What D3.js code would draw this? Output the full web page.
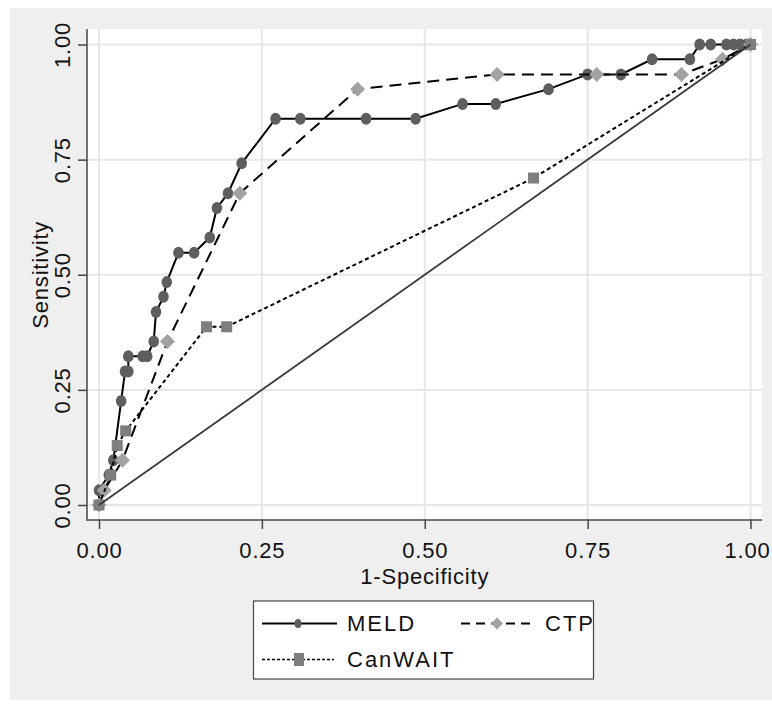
<!DOCTYPE html>
<html>
<head>
<meta charset="utf-8">
<script src="https://cdn.jsdelivr.net/npm/d3@7"></script>
<style>
  body { margin: 0; background: #fff; }
  text { font-family: "Liberation Sans", Arial, sans-serif; fill: #111; }
</style>
</head>
<body>
<div id="canvas"></div>
<script>
const w = 772, h = 708;

// 1-specificity / sensitivity
const meldX = [0, 0, 0.015, 0.022, 0.034, 0.040, 0.045, 0.045, 0.067, 0.074, 0.084, 0.0875, 0.099, 0.104, 0.122, 0.146, 0.170, 0.181, 0.198, 0.219, 0.271, 0.309, 0.410, 0.486, 0.558, 0.609, 0.690, 0.750, 0.801, 0.849, 0.907, 0.922, 0.939, 0.963, 0.974, 0.984, 0.994, 1];
const meldY = [0, 0.032, 0.065, 0.097, 0.226, 0.290, 0.290, 0.323, 0.323, 0.323, 0.355, 0.419, 0.452, 0.484, 0.548, 0.548, 0.581, 0.645, 0.677, 0.742, 0.839, 0.839, 0.839, 0.839, 0.871, 0.871, 0.903, 0.935, 0.935, 0.968, 0.968, 1, 1, 1, 1, 1, 1, 1];
const ctpX = [0, 0.008, 0.036, 0.105, 0.216, 0.397, 0.611, 0.764, 0.894, 0.957, 1];
const ctpY = [0, 0.032, 0.097, 0.355, 0.677, 0.903, 0.935, 0.935, 0.935, 0.968, 1];
const canX = [0, 0.018, 0.028, 0.041, 0.165, 0.196, 0.667, 1];
const canY = [0, 0.065, 0.129, 0.161, 0.387, 0.387, 0.710, 1];
const refX = [0, 1];
const refY = [0, 1];

const ticks = [0, 0.25, 0.5, 0.75, 1];
const seriesNames = ["MELD", "CTP", "CanWAIT"];

const plot = {left: 87, right: 762, top: 29, bottom: 520};

let svg = d3.select("#canvas")
            .append("svg")
                .attr("width", w)
                .attr("height", h)
                .attr("viewBox", [0, 0, w, h]);

// backgrounds
svg.append("rect").attr("x", 10).attr("y", 8).attr("width", w - 10).attr("height", h - 16).attr("fill", "#efefef");
svg.append("rect")
    .attr("x", plot.left).attr("y", plot.top)
    .attr("width", plot.right - plot.left).attr("height", plot.bottom - plot.top)
    .attr("fill", "#fff");

const x = d3.scaleLinear().domain([0, 1]).range([99, 750.5]);
const y = d3.scaleLinear().domain([0, 1]).range([505, 44.5]);

// grid
svg.append("g").selectAll("line").data(ticks).enter().append("line")
    .attr("x1", d => x(d)).attr("x2", d => x(d))
    .attr("y1", plot.top).attr("y2", plot.bottom)
    .attr("stroke", "#e6e6e6").attr("stroke-width", 2);
svg.append("g").selectAll("line").data(ticks).enter().append("line")
    .attr("y1", d => y(d)).attr("y2", d => y(d))
    .attr("x1", plot.left).attr("x2", plot.right)
    .attr("stroke", "#e6e6e6").attr("stroke-width", 2);

// axes
const xAxis = d3.axisBottom(x).tickValues(ticks).tickFormat(d3.format(".2f"))
    .tickSize(9).tickSizeOuter(0);
const yAxis = d3.axisLeft(y).tickValues(ticks).tickFormat(d3.format(".2f"))
    .tickSize(9).tickSizeOuter(0);

const gX = svg.append("g").attr("transform", "translate(0," + plot.bottom + ")").call(xAxis);
gX.select(".domain").remove();
gX.selectAll("line").attr("stroke", "#444").attr("stroke-width", 1.5);
gX.selectAll("text").attr("font-size", 22).attr("letter-spacing", 0.8).attr("y", 30).attr("dy", "0.36em")
    .attr("fill", "#111").style("font-family", null);
// last label sits at the right edge, keep it inside the page
gX.selectAll("text").filter(d => d === 1)
    .attr("text-anchor", "end").attr("x", w - 2 - x(1));

const gY = svg.append("g").attr("transform", "translate(" + plot.left + ",0)").call(yAxis);
gY.select(".domain").remove();
gY.selectAll("line").attr("stroke", "#444").attr("stroke-width", 1.5);
gY.selectAll("text")
    .attr("transform", "rotate(-90)")
    .attr("x", 0).attr("y", -25).attr("dy", "0.36em")
    .attr("text-anchor", "middle").attr("font-size", 22).attr("letter-spacing", 0.8)
    .attr("fill", "#111").style("font-family", null);

svg.append("line").attr("x1", plot.left).attr("x2", plot.left).attr("y1", plot.top).attr("y2", plot.bottom + 0.75)
    .attr("stroke", "#444").attr("stroke-width", 1.5);
svg.append("line").attr("x1", plot.left).attr("x2", plot.right).attr("y1", plot.bottom).attr("y2", plot.bottom)
    .attr("stroke", "#444").attr("stroke-width", 1.5);

svg.append("text").attr("x", (x(0) + x(1)) / 2).attr("y", 576).attr("dy", "0.36em")
    .attr("text-anchor", "middle").attr("font-size", 22).attr("letter-spacing", 0.8)
    .text("1-Specificity");
svg.append("text").attr("transform", "translate(40," + (y(0.5)) + ") rotate(-90)").attr("dy", "0.36em")
    .attr("text-anchor", "middle").attr("font-size", 22).attr("letter-spacing", 0.8)
    .text("Sensitivity");

// series
const line = d3.line().x(d => x(d[0])).y(d => y(d[1]));
const zip = (a, b) => a.map((v, i) => [v, b[i]]);

const styles = {
    MELD:    {pts: zip(meldX, meldY), dash: null,    marker: "circle",  fill: "#5e5e5e"},
    CTP:     {pts: zip(ctpX, ctpY),   dash: "12,7",  marker: "diamond", fill: "#a2a2a2"},
    CanWAIT: {pts: zip(canX, canY),   dash: "4,3",   marker: "square",  fill: "#7e7e7e"}
};

function diamond(r) {
    return "M0," + (-r) + "L" + r + ",0L0," + r + "L" + (-r) + ",0Z";
}

function drawMarker(g, kind, fill, cx, cy) {
    if (kind === "circle") {
        g.append("ellipse").attr("cx", cx).attr("cy", cy).attr("rx", 5.3).attr("ry", 6).attr("fill", fill);
    } else if (kind === "diamond") {
        g.append("path").attr("d", diamond(7.5)).attr("transform", "translate(" + cx + "," + cy + ")").attr("fill", fill);
    } else {
        g.append("rect").attr("x", cx - 5.5).attr("y", cy - 5.5).attr("width", 11).attr("height", 11).attr("fill", fill);
    }
}

seriesNames.forEach(name => {
    const s = styles[name];
    const g = svg.append("g");
    g.append("path").datum(s.pts).attr("d", line).attr("fill", "none")
        .attr("stroke", "#000").attr("stroke-width", 2).attr("stroke-dasharray", s.dash);
    s.pts.forEach(p => drawMarker(g, s.marker, s.fill, x(p[0]), y(p[1])));
});

// reference diagonal
svg.append("path").datum(zip(refX, refY)).attr("d", line).attr("fill", "none")
    .attr("stroke", "#3a3a3a").attr("stroke-width", 1.8);

// legend
const lg = svg.append("g");
lg.append("rect").attr("x", 253.5).attr("y", 601).attr("width", 340).attr("height", 78)
    .attr("fill", "#fff").attr("stroke", "#444").attr("stroke-width", 1.2);
const legendPos = {
    MELD:    {x1: 262, x2: 337, y: 623.5, mx: 298, tx: 347},
    CTP:     {x1: 461, x2: 535, y: 623.5, mx: 497, tx: 545},
    CanWAIT: {x1: 262, x2: 334, y: 659.5, mx: 299, tx: 347}
};
seriesNames.forEach(name => {
    const s = styles[name], p = legendPos[name];
    lg.append("line").attr("x1", p.x1).attr("x2", p.x2).attr("y1", p.y).attr("y2", p.y)
        .attr("stroke", "#000").attr("stroke-width", name === "CanWAIT" ? 1.5 : 2)
        .attr("stroke-dasharray", name === "CTP" ? "9,6" : (name === "CanWAIT" ? "3,2" : null));
    if (s.marker === "circle") {
        lg.append("ellipse").attr("cx", p.mx).attr("cy", p.y).attr("rx", 3.5).attr("ry", 4.5).attr("fill", s.fill);
    } else if (s.marker === "diamond") {
        lg.append("path").attr("d", diamond(6)).attr("transform", "translate(" + p.mx + "," + p.y + ")").attr("fill", s.fill);
    } else {
        lg.append("rect").attr("x", p.mx - 5).attr("y", p.y - 6.5).attr("width", 10).attr("height", 13).attr("fill", s.fill);
    }
    lg.append("text").attr("x", p.tx).attr("y", p.y).attr("dy", "0.36em")
        .attr("font-size", 22).attr("letter-spacing", 2).text(name);
});
</script>
</body>
</html>
